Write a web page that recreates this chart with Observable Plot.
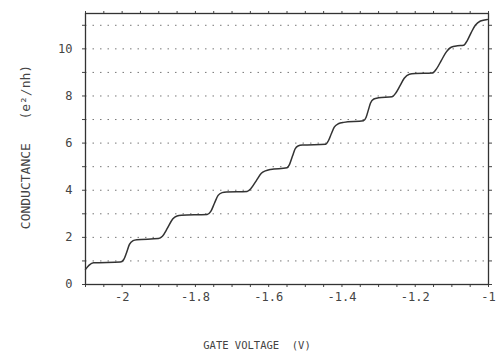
<!DOCTYPE html>
<html><head><meta charset="utf-8">
<script src="https://cdn.jsdelivr.net/npm/d3@7"></script>
<script src="https://cdn.jsdelivr.net/npm/@observablehq/plot@0.6"></script>
<style>
body{margin:0;background:#fff;}
</style></head><body><div id="chart"></div>
<script>
// Gate voltage (V) and conductance
const voltage = [-2.100,-2.090,-2.078,-2.005,-1.996,-1.988,-1.980,-1.970,-1.960,-1.901,-1.890,-1.876,-1.862,-1.850,-1.838,-1.768,-1.758,-1.748,-1.738,-1.727,-1.715,-1.659,-1.648,-1.634,-1.620,-1.609,-1.595,-1.550,-1.543,-1.535,-1.528,-1.520,-1.508,-1.445,-1.437,-1.429,-1.421,-1.410,-1.395,-1.341,-1.334,-1.328,-1.322,-1.313,-1.300,-1.263,-1.252,-1.241,-1.230,-1.216,-1.200,-1.154,-1.142,-1.129,-1.116,-1.102,-1.085,-1.068,-1.058,-1.047,-1.036,-1.022,-1.003];
const conductance = [0.64,0.82,0.92,0.95,1.05,1.35,1.70,1.86,1.90,1.95,2.05,2.40,2.78,2.91,2.94,2.97,3.10,3.45,3.78,3.90,3.93,3.95,4.08,4.40,4.72,4.82,4.88,4.95,5.10,5.45,5.75,5.88,5.92,5.95,6.10,6.40,6.68,6.82,6.88,6.95,7.10,7.40,7.70,7.87,7.92,7.97,8.15,8.45,8.75,8.92,8.95,8.97,9.15,9.50,9.85,10.07,10.13,10.15,10.35,10.70,11.00,11.18,11.25];
const xTickLabels = [-2,-1.8,-1.6,-1.4,-1.2,-1];
const xMinorTicks = [-2.1,-2.05,-2,-1.95,-1.9,-1.85,-1.8,-1.75,-1.7,-1.65,-1.6,-1.55,-1.5,-1.45,-1.4,-1.35,-1.3,-1.25,-1.2,-1.15,-1.1,-1.05,-1];
const yTickLabels = [0,2,4,6,8,10];
const yMinorTicks = [0,1,2,3,4,5,6,7,8,9,10,11];
const gridLevels = [1,2,3,4,5,6,7,8,9,10,11];
const xTitle = "GATE VOLTAGE\u00a0\u00a0(V)";
const yTitle = "CONDUCTANCE\u00a0\u00a0\u00a0(e²/nh)";

const data = voltage.map((v,i)=>({v, g: conductance[i]}));
const fmt = d => String(Math.round(d*10)/10);

const chart = Plot.plot({
  width: 497, height: 352,
  marginLeft: 85, marginRight: 9, marginTop: 13, marginBottom: 68,
  x: {domain: [-2.1, -1]},
  y: {domain: [0, 11.5]},
  style: {fontFamily: "DejaVu Sans Mono", color: "#444", background: "#fff"},
  marks: [
    Plot.ruleY(gridLevels, {stroke: "#777", strokeDasharray: "1.5,6", strokeWidth: 1}),
    Plot.axisX(xMinorTicks, {tickSize: 3, tickFormat: () => "", label: null, stroke: "#444"}),
    Plot.axisX(xMinorTicks, {anchor: "top", tickSize: 3, tickFormat: () => "", label: null, stroke: "#444"}),
    Plot.axisX(xTickLabels, {tickSize: 0, tickPadding: 8, tickFormat: fmt, fontSize: 12, label: null, fill: "#444"}),
    Plot.axisY(yMinorTicks, {tickSize: 3, tickFormat: () => "", label: null, stroke: "#444"}),
    Plot.axisY(yMinorTicks, {anchor: "right", tickSize: 3, tickFormat: () => "", label: null, stroke: "#444"}),
    Plot.axisY(yTickLabels, {tickSize: 0, tickPadding: 13, tickFormat: fmt, fontSize: 12, label: null, fill: "#444"}),
    Plot.frame({stroke: "#333", strokeWidth: 1.3}),
    Plot.line(data, {x: "v", y: "g", curve: "monotone-x", stroke: "#333", strokeWidth: 1.5}),
    Plot.text([xTitle], {frameAnchor: "bottom", textAnchor: "middle", lineAnchor: "middle", dx: -30, dy: 61, fontSize: 10.5, fill: "#444"}),
    Plot.text([yTitle], {frameAnchor: "left", textAnchor: "middle", lineAnchor: "middle", rotate: -90, dx: -60, dy: -2, fontSize: 13, fill: "#444"})
  ]
});
document.getElementById("chart").appendChild(chart);
</script></body></html>
